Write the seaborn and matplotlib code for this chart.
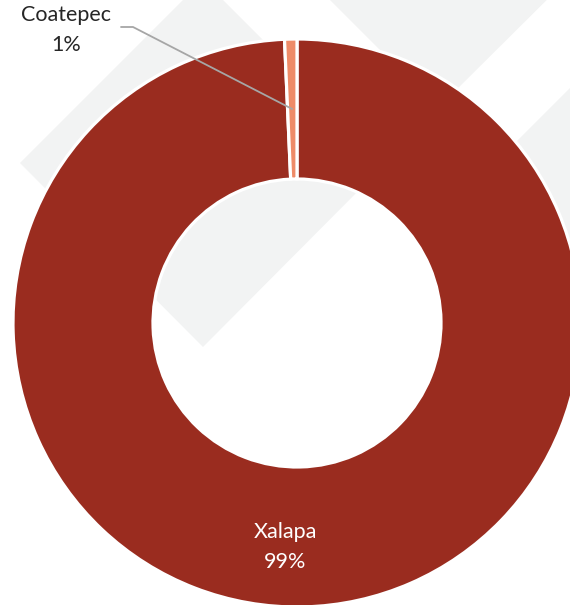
import numpy as np
import matplotlib.pyplot as plt
import seaborn as sns
from matplotlib.patches import Polygon

# data
municipios = ["Xalapa", "Coatepec"]
porcentajes = [99.3, 0.7]
colores = ["#9A2C1F", "#EE8B68"]

sns.set_theme(style="white")
plt.rcParams["font.family"] = ["Lato", "DejaVu Sans"]

W, H = 570, 605
fig = plt.figure(figsize=(W / 100, H / 100), dpi=100)
ax = fig.add_axes([0, 0, 1, 1])


def py(y):
    # pixel row (from top) -> data y
    return H - y


# light watermark shapes in the background
gris = "#F2F3F3"
fondo = [
    [(203, -20), (386, 163), (203, 347), (20, 163)],
    [(438, 108), (290, -40), (587, -40)],
    [(480, 178), (610, 48), (700, 48), (700, 398)],
]
for pts in fondo:
    ax.add_patch(Polygon([(x, py(y)) for x, y in pts], closed=True,
                         facecolor=gris, edgecolor="none", zorder=0))

cx, cy, R = 297, py(323), 284
wedges, _ = ax.pie(porcentajes, colors=colores, startangle=90, counterclock=False,
                   center=(cx, cy), radius=R,
                   wedgeprops=dict(width=140, edgecolor="white", linewidth=2.3))
for w in wedges:
    w.set_zorder(2)

ax.set_xlim(0, W)
ax.set_ylim(0, H)
ax.set_aspect("equal")
ax.axis("off")

# Xalapa label inside the ring
ax.text(285, py(532), municipios[0], color="white", fontsize=15.5,
        ha="center", va="center", zorder=3)
ax.text(285, py(562), f"{porcentajes[0]:.0f}%", color="white", fontsize=15.5,
        ha="center", va="center", zorder=3)

# Coatepec label outside with leader line
w = wedges[1]
mid = np.deg2rad((w.theta1 + w.theta2) / 2)
rm = R - 140 / 2
ex, ey = cx + rm * np.cos(mid), cy + rm * np.sin(mid)
ax.plot([121, 133, ex], [py(27), py(27), ey], color="#A6A6A6", lw=1.3, zorder=4)
ax.text(66, py(15), municipios[1], color="#262626", fontsize=15.5,
        ha="center", va="center", zorder=3)
ax.text(66, py(45), f"{porcentajes[1]:.0f}%", color="#262626", fontsize=15.5,
        ha="center", va="center", zorder=3)

fig.savefig("out.png", dpi=100)
